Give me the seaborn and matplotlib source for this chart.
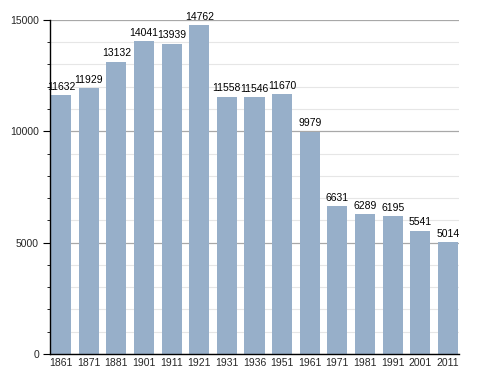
import matplotlib
matplotlib.use("Agg")
import matplotlib.pyplot as plt
import pandas as pd
import seaborn as sns
from matplotlib.ticker import MultipleLocator

years = ["1861", "1871", "1881", "1901", "1911", "1921", "1931", "1936",
         "1951", "1961", "1971", "1981", "1991", "2001", "2011"]
population = [11632, 11929, 13132, 14041, 13939, 14762, 11558, 11546,
              11670, 9979, 6631, 6289, 6195, 5541, 5014]

frame = pd.DataFrame({"year": years, "population": population})

sns.set_theme(style="white")
plt.rcParams["font.family"] = ["Liberation Sans", "DejaVu Sans"]

fig = plt.figure(figsize=(4.88, 3.73), dpi=100)
ax = fig.add_axes([0.1025, 0.051, 0.838, 0.8955])

sns.barplot(data=frame, x="year", y="population", color="#97afc9",
            saturation=1, width=0.73, linewidth=0, ax=ax, zorder=3)

ax.set_ylim(0, 15000)
ax.set_xlim(-0.4, len(years) - 0.6)
ax.yaxis.set_major_locator(MultipleLocator(5000))
ax.yaxis.set_minor_locator(MultipleLocator(1000))
ax.grid(which="minor", axis="y", color="#e6e6e6", linewidth=0.8, zorder=0)
ax.grid(which="major", axis="y", color="#a8a8a8", linewidth=0.9, zorder=1)
ax.set_axisbelow(True)

for side in ["top", "right"]:
    ax.spines[side].set_visible(False)
for side in ["left", "bottom"]:
    ax.spines[side].set_color("black")
    ax.spines[side].set_linewidth(1.0)
    ax.spines[side].set_zorder(5)

ax.tick_params(axis="y", which="major", length=5, width=0.8, color="black",
               labelsize=7.5, pad=3, left=True)
ax.tick_params(axis="y", which="minor", length=2.5, width=0.6, color="black", left=True)
ax.tick_params(axis="x", length=0, labelsize=7.5, pad=3)

for i, v in enumerate(population):
    ax.text(i, v + 150, str(v), ha="center", va="bottom", fontsize=7.5, color="black")

ax.set_xlabel("")
ax.set_ylabel("")

fig.savefig("out.png", dpi=100)
